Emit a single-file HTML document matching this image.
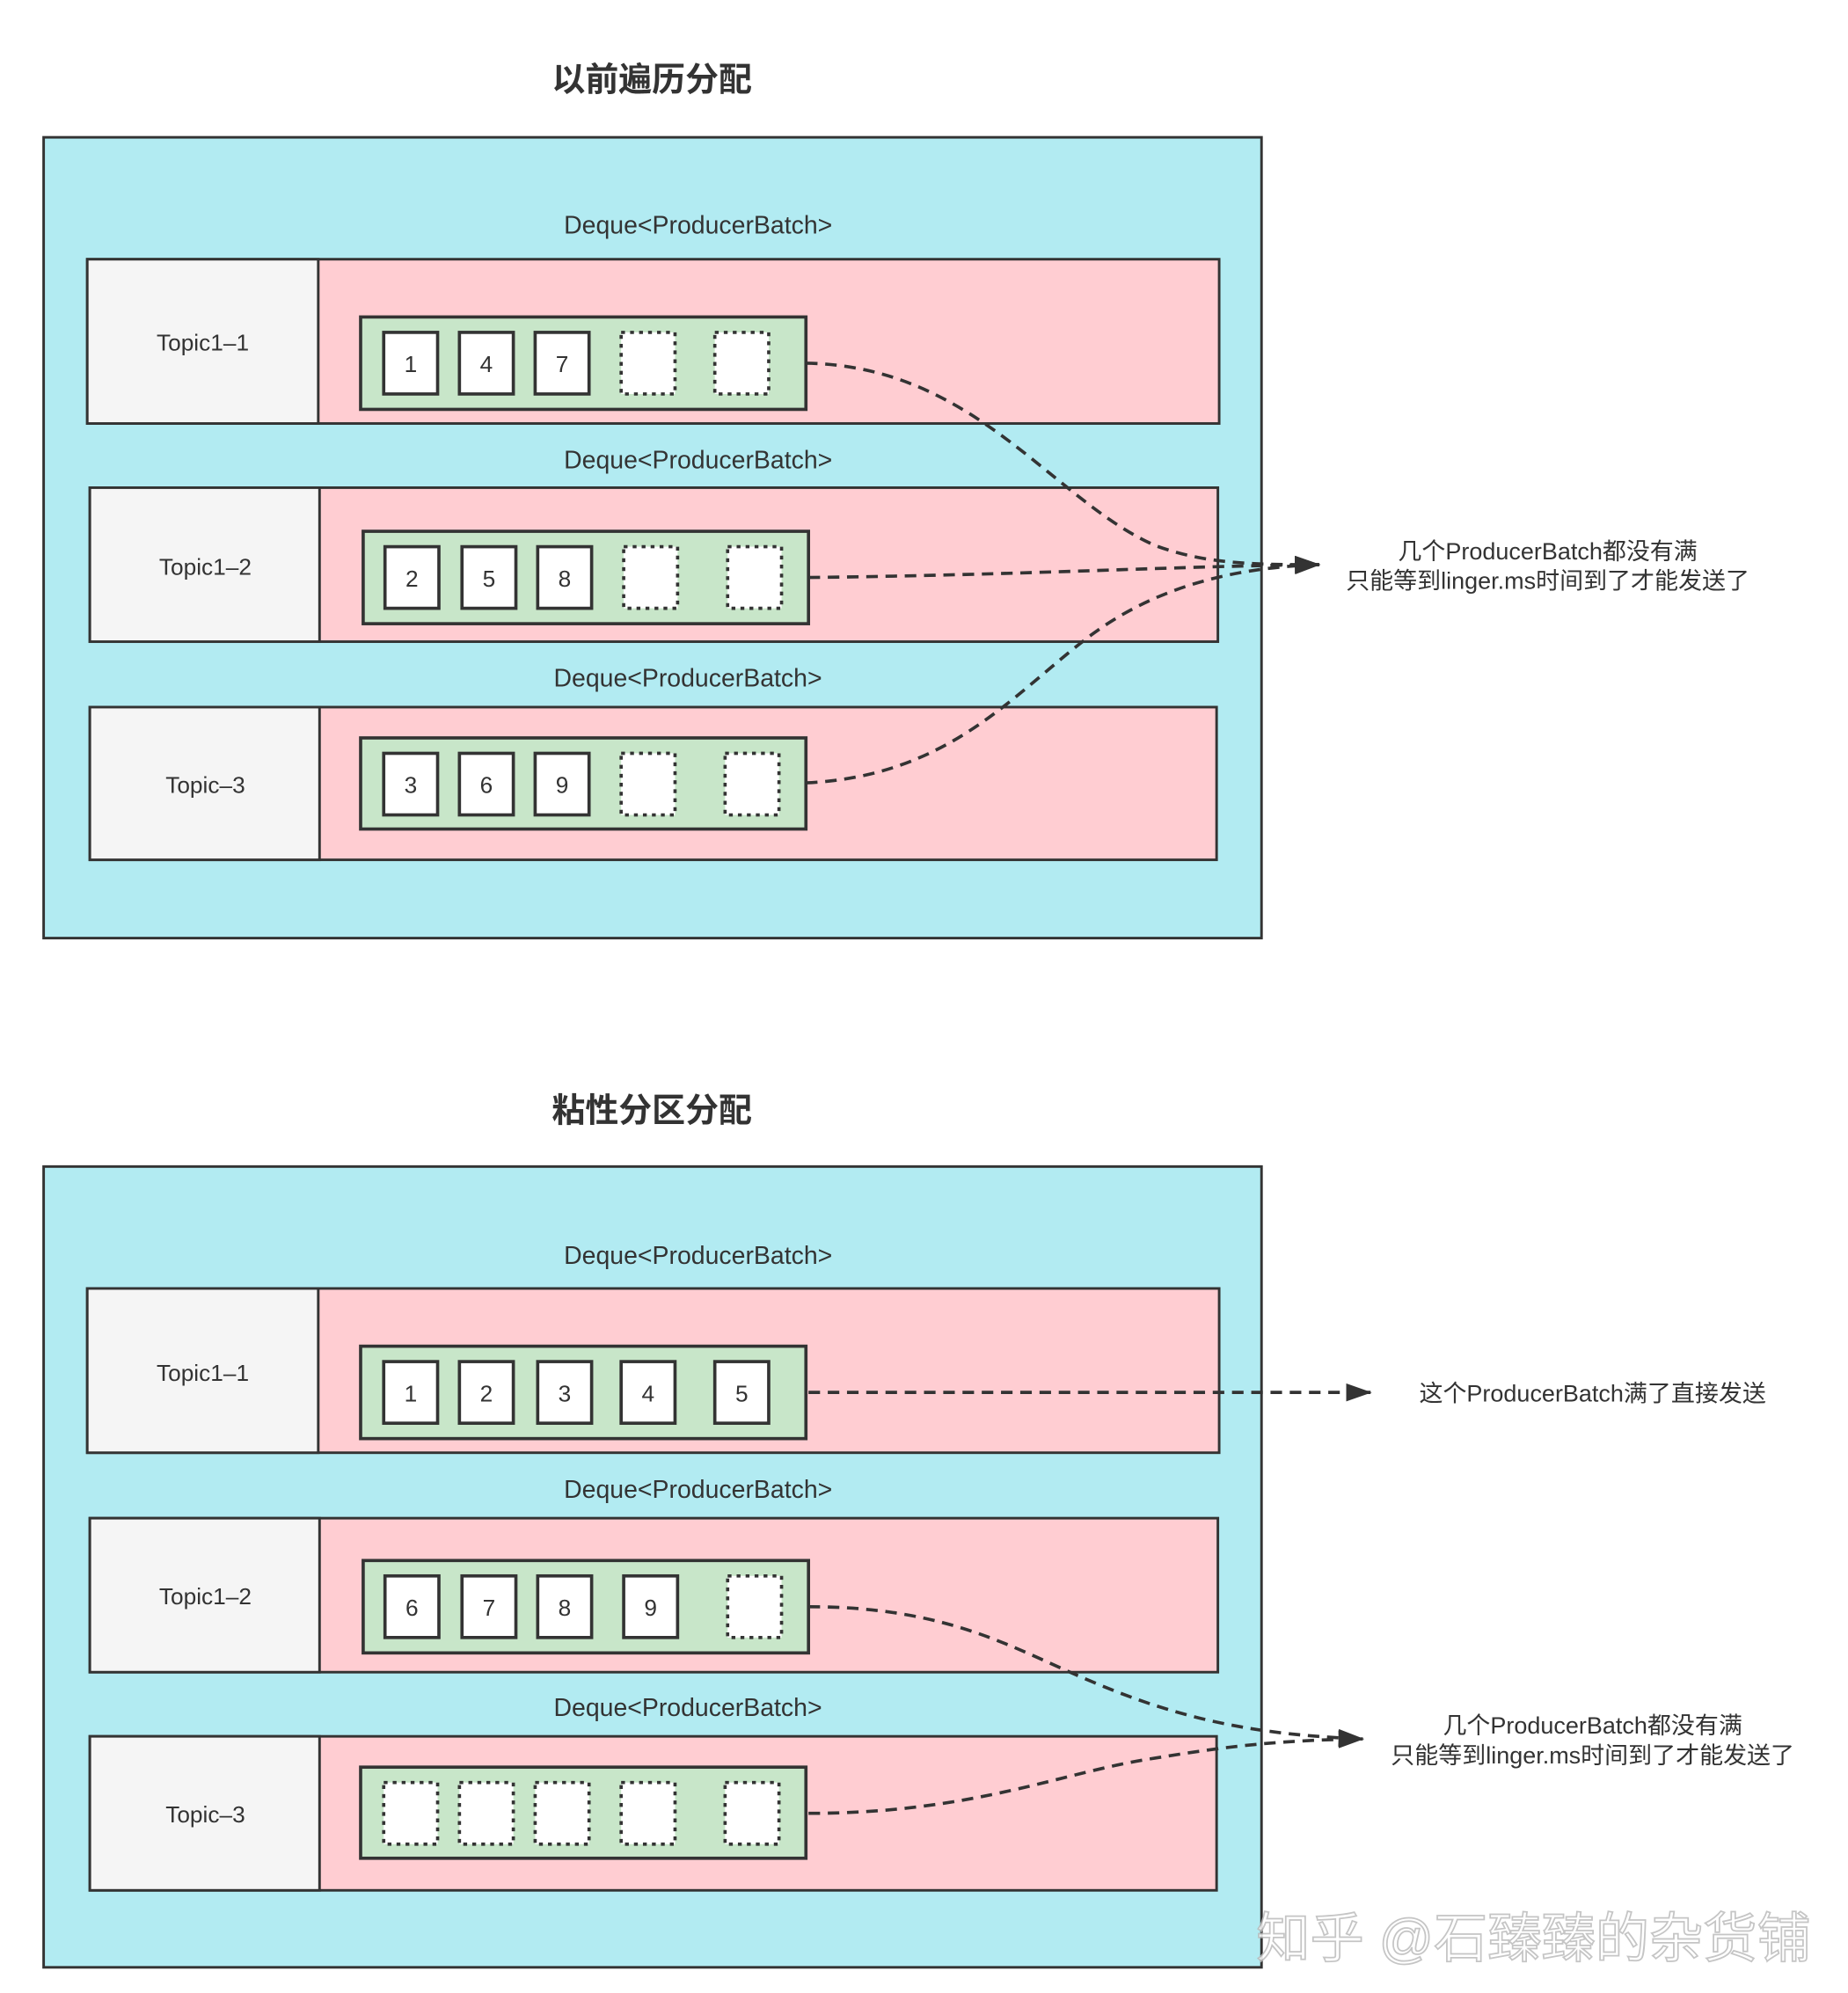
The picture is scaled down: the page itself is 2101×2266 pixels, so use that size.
<!DOCTYPE html>
<html><head><meta charset="utf-8"><style>
html,body{margin:0;padding:0;background:#fff}
svg{display:block}
text{font-family:"Liberation Sans","Noto Sans CJK SC",sans-serif;fill:#333}
</style></head><body>
<svg width="2101" height="2266" viewBox="0 0 1440 1553" preserveAspectRatio="none" xmlns="http://www.w3.org/2000/svg">
<defs>
<marker id="ah" markerWidth="20" markerHeight="14" refX="19" refY="7" orient="auto" markerUnits="userSpaceOnUse" viewBox="0 0 20 14">
<path d="M0,0 L20,7 L0,14 z" fill="#333"/>
</marker>
</defs>
<g id="s1">
<text x="508" y="71" font-size="26" font-weight="bold" text-anchor="middle">以前遍历分配</text>
<rect x="34" y="107" width="949" height="624" fill="#b2ebf2" stroke="#333" stroke-width="2"/>
<text x="544" y="182" font-size="19.5" text-anchor="middle">Deque&lt;ProducerBatch&gt;</text>
<text x="544" y="365" font-size="19.5" text-anchor="middle">Deque&lt;ProducerBatch&gt;</text>
<text x="536" y="535" font-size="19.5" text-anchor="middle">Deque&lt;ProducerBatch&gt;</text>
<rect x="68" y="202" width="882" height="128" fill="#ffcdd2" stroke="#333" stroke-width="2"/>
<rect x="68" y="202" width="180" height="128" fill="#f5f5f5" stroke="#333" stroke-width="2"/>
<text x="158" y="273" font-size="18" text-anchor="middle">Topic1–1</text>
<rect x="70" y="380" width="879" height="120" fill="#ffcdd2" stroke="#333" stroke-width="2"/>
<rect x="70" y="380" width="179" height="120" fill="#f5f5f5" stroke="#333" stroke-width="2"/>
<text x="160" y="448" font-size="18" text-anchor="middle">Topic1–2</text>
<rect x="70" y="551" width="878" height="119" fill="#ffcdd2" stroke="#333" stroke-width="2"/>
<rect x="70" y="551" width="179" height="119" fill="#f5f5f5" stroke="#333" stroke-width="2"/>
<text x="160" y="618" font-size="18" text-anchor="middle">Topic–3</text>
<rect x="281" y="247" width="347" height="72" fill="#c8e6c9" stroke="#333" stroke-width="2.5"/>
<rect x="283" y="414" width="347" height="72" fill="#c8e6c9" stroke="#333" stroke-width="2.5"/>
<rect x="281" y="575" width="347" height="71" fill="#c8e6c9" stroke="#333" stroke-width="2.5"/>
<g fill="#fff" stroke="#333" stroke-width="2.5">
<rect x="299" y="259" width="42" height="48"/><rect x="358" y="259" width="42" height="48"/><rect x="417" y="259" width="42" height="48"/>
<rect x="300" y="426" width="42" height="48"/><rect x="360" y="426" width="42" height="48"/><rect x="419" y="426" width="42" height="48"/>
<rect x="299" y="587" width="42" height="48"/><rect x="358" y="587" width="42" height="48"/><rect x="417" y="587" width="42" height="48"/>
</g>
<g fill="#fff" stroke="#333" stroke-width="2.5" stroke-dasharray="3 4">
<rect x="484" y="259" width="42" height="48"/><rect x="557" y="259" width="42" height="48"/>
<rect x="486" y="426" width="42" height="48"/><rect x="567" y="426" width="42" height="48"/>
<rect x="484" y="587" width="42" height="48"/><rect x="565" y="587" width="42" height="48"/>
</g>
<g font-size="18" text-anchor="middle">
<text x="320" y="290">1</text><text x="379" y="290">4</text><text x="438" y="290">7</text>
<text x="321" y="457">2</text><text x="381" y="457">5</text><text x="440" y="457">8</text>
<text x="320" y="618">3</text><text x="379" y="618">6</text><text x="438" y="618">9</text>
</g>
<g fill="none" stroke="#333" stroke-width="2.5" stroke-dasharray="9 6">
<path d="M628,283 C760,285 820,390 900,425 C940,440 980,440 1028,440" marker-end="url(#ah)"/>
<path d="M630,450 C800,448 920,441 1028,440" marker-end="url(#ah)"/>
<path d="M628,610 C740,605 790,540 850,495 C900,458 960,442 1028,440" marker-end="url(#ah)"/>
</g>
<text x="1206" y="436" font-size="18.5" text-anchor="middle">几个ProducerBatch都没有满</text>
<text x="1206" y="459" font-size="18.5" text-anchor="middle">只能等到linger.ms时间到了才能发送了</text>
</g>
<g id="s2">
<text x="508" y="874" font-size="26" font-weight="bold" text-anchor="middle">粘性分区分配</text>
<rect x="34" y="909" width="949" height="624" fill="#b2ebf2" stroke="#333" stroke-width="2"/>
<text x="544" y="985" font-size="19.5" text-anchor="middle">Deque&lt;ProducerBatch&gt;</text>
<text x="544" y="1167" font-size="19.5" text-anchor="middle">Deque&lt;ProducerBatch&gt;</text>
<text x="536" y="1337" font-size="19.5" text-anchor="middle">Deque&lt;ProducerBatch&gt;</text>
<rect x="68" y="1004" width="882" height="128" fill="#ffcdd2" stroke="#333" stroke-width="2"/>
<rect x="68" y="1004" width="180" height="128" fill="#f5f5f5" stroke="#333" stroke-width="2"/>
<text x="158" y="1076" font-size="18" text-anchor="middle">Topic1–1</text>
<rect x="70" y="1183" width="879" height="120" fill="#ffcdd2" stroke="#333" stroke-width="2"/>
<rect x="70" y="1183" width="179" height="120" fill="#f5f5f5" stroke="#333" stroke-width="2"/>
<text x="160" y="1250" font-size="18" text-anchor="middle">Topic1–2</text>
<rect x="70" y="1353" width="878" height="120" fill="#ffcdd2" stroke="#333" stroke-width="2"/>
<rect x="70" y="1353" width="179" height="120" fill="#f5f5f5" stroke="#333" stroke-width="2"/>
<text x="160" y="1420" font-size="18" text-anchor="middle">Topic–3</text>
<rect x="281" y="1049" width="347" height="72" fill="#c8e6c9" stroke="#333" stroke-width="2.5"/>
<rect x="283" y="1216" width="347" height="72" fill="#c8e6c9" stroke="#333" stroke-width="2.5"/>
<rect x="281" y="1377" width="347" height="71" fill="#c8e6c9" stroke="#333" stroke-width="2.5"/>
<g fill="#fff" stroke="#333" stroke-width="2.5">
<rect x="299" y="1061" width="42" height="48"/><rect x="358" y="1061" width="42" height="48"/><rect x="419" y="1061" width="42" height="48"/><rect x="484" y="1061" width="42" height="48"/><rect x="557" y="1061" width="42" height="48"/>
<rect x="300" y="1228" width="42" height="48"/><rect x="360" y="1228" width="42" height="48"/><rect x="419" y="1228" width="42" height="48"/><rect x="486" y="1228" width="42" height="48"/>
</g>
<g fill="#fff" stroke="#333" stroke-width="2.5" stroke-dasharray="3 4">
<rect x="567" y="1228" width="42" height="48"/>
<rect x="299" y="1389" width="42" height="48"/><rect x="358" y="1389" width="42" height="48"/><rect x="417" y="1389" width="42" height="48"/><rect x="484" y="1389" width="42" height="48"/><rect x="565" y="1389" width="42" height="48"/>
</g>
<g font-size="18" text-anchor="middle">
<text x="320" y="1092">1</text><text x="379" y="1092">2</text><text x="440" y="1092">3</text><text x="505" y="1092">4</text><text x="578" y="1092">5</text>
<text x="321" y="1259">6</text><text x="381" y="1259">7</text><text x="440" y="1259">8</text><text x="507" y="1259">9</text>
</g>
<g fill="none" stroke="#333" stroke-width="2.5" stroke-dasharray="9 6">
<path d="M630,1085 L1068,1085" marker-end="url(#ah)"/>
<path d="M630,1252 C740,1252 790,1285 850,1310 C920,1340 980,1352 1062,1355" marker-end="url(#ah)"/>
<path d="M630,1413 C760,1413 830,1380 900,1370 C960,1360 1000,1356 1062,1355" marker-end="url(#ah)"/>
</g>
<text x="1241" y="1092" font-size="18.5" text-anchor="middle">这个ProducerBatch满了直接发送</text>
<text x="1241" y="1351" font-size="18.5" text-anchor="middle">几个ProducerBatch都没有满</text>
<text x="1241" y="1374" font-size="18.5" text-anchor="middle">只能等到linger.ms时间到了才能发送了</text>
</g>
<text x="1195" y="1525" font-size="42" text-anchor="middle" style="fill:#fff;stroke:#bbb;stroke-width:1.2;opacity:0.85">知乎 @石臻臻的杂货铺</text>
</svg>
</body></html>
